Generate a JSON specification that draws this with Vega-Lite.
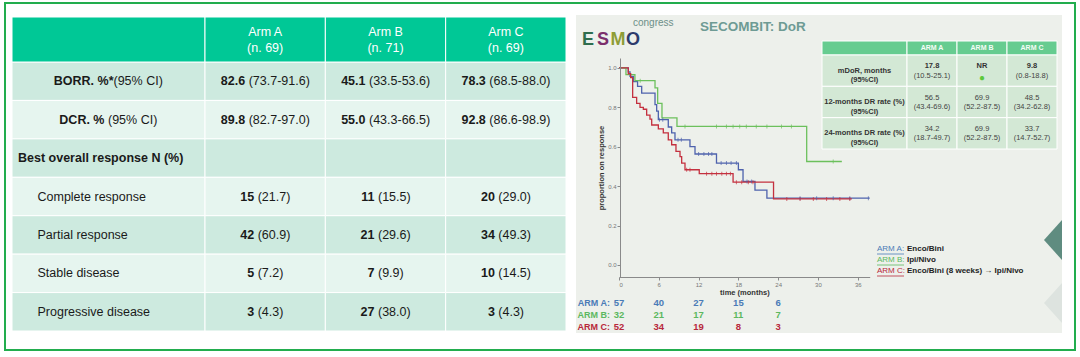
{
  "$schema": "https://vega.github.io/schema/vega-lite/v6.json",
  "width": 1070,
  "height": 347,
  "autosize": "none",
  "padding": {"left": 5, "top": 3, "right": 5, "bottom": 7},
  "background": "white",
  "title": {"text": "SECOMBIT: DoR", "anchor": "start", "frame": "group", "orient": "top", "offset": -37, "dx": 695, "baseline": "middle", "fontSize": 13.5, "font": "Liberation Sans", "fontWeight": "bold", "color": "#6e9b94"},
  "datasets": {
    "panel": [{"panel": "slide"}],
    "rows": [
      {"row": "header", "col": "label"},
      {"row": "BORR", "col": "label", "bold": "BORR. %*", "reg": "(95% CI)"},
      {"row": "DCR", "col": "label", "bold": "DCR. %", "reg": "(95% CI)"},
      {"row": "Best", "col": "label", "bold": "Best overall response N (%)"},
      {"row": "CR", "col": "label", "name": "Complete response"},
      {"row": "PR", "col": "label", "name": "Partial response"},
      {"row": "SD", "col": "label", "name": "Stable disease"},
      {"row": "PD", "col": "label", "name": "Progressive disease"}
    ],
    "arms": [
      {"arm": "Arm A", "n": "(n. 69)", "row": "header"},
      {"arm": "Arm B", "n": "(n. 71)", "row": "header"},
      {"arm": "Arm C", "n": "(n. 69)", "row": "header"}
    ],
    "cells": [
      {"row": "BORR", "arm": "Arm A", "v": "82.6", "c": "(73.7-91.6)"},
      {"row": "BORR", "arm": "Arm B", "v": "45.1", "c": "(33.5-53.6)"},
      {"row": "BORR", "arm": "Arm C", "v": "78.3", "c": "(68.5-88.0)"},
      {"row": "DCR", "arm": "Arm A", "v": "89.8", "c": "(82.7-97.0)"},
      {"row": "DCR", "arm": "Arm B", "v": "55.0", "c": "(43.3-66.5)"},
      {"row": "DCR", "arm": "Arm C", "v": "92.8", "c": "(86.6-98.9)"},
      {"row": "Best", "arm": "Arm A", "v": "", "c": ""},
      {"row": "Best", "arm": "Arm B", "v": "", "c": ""},
      {"row": "Best", "arm": "Arm C", "v": "", "c": ""},
      {"row": "CR", "arm": "Arm A", "v": "15", "c": "(21.7)"},
      {"row": "CR", "arm": "Arm B", "v": "11", "c": "(15.5)"},
      {"row": "CR", "arm": "Arm C", "v": "20", "c": "(29.0)"},
      {"row": "PR", "arm": "Arm A", "v": "42", "c": "(60.9)"},
      {"row": "PR", "arm": "Arm B", "v": "21", "c": "(29.6)"},
      {"row": "PR", "arm": "Arm C", "v": "34", "c": "(49.3)"},
      {"row": "SD", "arm": "Arm A", "v": "5", "c": "(7.2)"},
      {"row": "SD", "arm": "Arm B", "v": "7", "c": "(9.9)"},
      {"row": "SD", "arm": "Arm C", "v": "10", "c": "(14.5)"},
      {"row": "PD", "arm": "Arm A", "v": "3", "c": "(4.3)"},
      {"row": "PD", "arm": "Arm B", "v": "27", "c": "(38.0)"},
      {"row": "PD", "arm": "Arm C", "v": "3", "c": "(4.3)"}
    ],
    "km": [
      {"arm": "ARM A", "t": 0, "p": 1.0},
      {"arm": "ARM A", "t": 1.4, "p": 0.98},
      {"arm": "ARM A", "t": 1.66, "p": 0.957},
      {"arm": "ARM A", "t": 2.16, "p": 0.93},
      {"arm": "ARM A", "t": 2.8, "p": 0.906},
      {"arm": "ARM A", "t": 3.42, "p": 0.872},
      {"arm": "ARM A", "t": 5.43, "p": 0.813},
      {"arm": "ARM A", "t": 5.68, "p": 0.78},
      {"arm": "ARM A", "t": 5.93, "p": 0.737},
      {"arm": "ARM A", "t": 7.43, "p": 0.70},
      {"arm": "ARM A", "t": 7.94, "p": 0.67},
      {"arm": "ARM A", "t": 8.44, "p": 0.635},
      {"arm": "ARM A", "t": 10.7, "p": 0.60},
      {"arm": "ARM A", "t": 11.46, "p": 0.563},
      {"arm": "ARM A", "t": 14.7, "p": 0.517},
      {"arm": "ARM A", "t": 18.0, "p": 0.483},
      {"arm": "ARM A", "t": 18.7, "p": 0.424},
      {"arm": "ARM A", "t": 20.5, "p": 0.38},
      {"arm": "ARM A", "t": 22.3, "p": 0.339},
      {"arm": "ARM A", "t": 37.8, "p": 0.339},
      {"arm": "ARM B", "t": 0, "p": 1.0},
      {"arm": "ARM B", "t": 1.05, "p": 0.966},
      {"arm": "ARM B", "t": 2.4, "p": 0.935},
      {"arm": "ARM B", "t": 5.43, "p": 0.898},
      {"arm": "ARM B", "t": 5.83, "p": 0.82},
      {"arm": "ARM B", "t": 6.48, "p": 0.746},
      {"arm": "ARM B", "t": 8.74, "p": 0.703},
      {"arm": "ARM B", "t": 28.3, "p": 0.525},
      {"arm": "ARM B", "t": 33.6, "p": 0.525},
      {"arm": "ARM C", "t": 0, "p": 1.0},
      {"arm": "ARM C", "t": 1.4, "p": 0.97},
      {"arm": "ARM C", "t": 1.76, "p": 0.95},
      {"arm": "ARM C", "t": 2.06, "p": 0.85},
      {"arm": "ARM C", "t": 2.66, "p": 0.82},
      {"arm": "ARM C", "t": 3.17, "p": 0.80},
      {"arm": "ARM C", "t": 3.67, "p": 0.79},
      {"arm": "ARM C", "t": 4.17, "p": 0.76},
      {"arm": "ARM C", "t": 4.67, "p": 0.74},
      {"arm": "ARM C", "t": 4.93, "p": 0.71},
      {"arm": "ARM C", "t": 5.93, "p": 0.69},
      {"arm": "ARM C", "t": 6.68, "p": 0.67},
      {"arm": "ARM C", "t": 7.43, "p": 0.635},
      {"arm": "ARM C", "t": 7.94, "p": 0.61},
      {"arm": "ARM C", "t": 8.59, "p": 0.576},
      {"arm": "ARM C", "t": 9.2, "p": 0.55},
      {"arm": "ARM C", "t": 9.45, "p": 0.517},
      {"arm": "ARM C", "t": 9.95, "p": 0.483},
      {"arm": "ARM C", "t": 12.1, "p": 0.463},
      {"arm": "ARM C", "t": 17.2, "p": 0.42},
      {"arm": "ARM C", "t": 23.3, "p": 0.335},
      {"arm": "ARM C", "t": 35.1, "p": 0.335}
    ],
    "censor": [
      {"arm": "ARM B", "t": 3.2, "p": 0.935},
      {"arm": "ARM B", "t": 9.95, "p": 0.703},
      {"arm": "ARM B", "t": 14.7, "p": 0.703},
      {"arm": "ARM B", "t": 16.2, "p": 0.703},
      {"arm": "ARM B", "t": 17.2, "p": 0.703},
      {"arm": "ARM B", "t": 18.2, "p": 0.703},
      {"arm": "ARM B", "t": 19.2, "p": 0.703},
      {"arm": "ARM B", "t": 20.7, "p": 0.703},
      {"arm": "ARM B", "t": 22.3, "p": 0.703},
      {"arm": "ARM B", "t": 24.5, "p": 0.703},
      {"arm": "ARM B", "t": 26.0, "p": 0.703},
      {"arm": "ARM B", "t": 32.3, "p": 0.525},
      {"arm": "ARM A", "t": 6.1, "p": 0.737},
      {"arm": "ARM A", "t": 6.6, "p": 0.737},
      {"arm": "ARM A", "t": 8.9, "p": 0.635},
      {"arm": "ARM A", "t": 9.4, "p": 0.635},
      {"arm": "ARM A", "t": 12.0, "p": 0.563},
      {"arm": "ARM A", "t": 12.8, "p": 0.563},
      {"arm": "ARM A", "t": 13.5, "p": 0.563},
      {"arm": "ARM A", "t": 14.0, "p": 0.563},
      {"arm": "ARM A", "t": 15.4, "p": 0.517},
      {"arm": "ARM A", "t": 16.2, "p": 0.517},
      {"arm": "ARM A", "t": 16.9, "p": 0.517},
      {"arm": "ARM A", "t": 17.7, "p": 0.517},
      {"arm": "ARM A", "t": 19.3, "p": 0.424},
      {"arm": "ARM A", "t": 20.0, "p": 0.424},
      {"arm": "ARM A", "t": 27.3, "p": 0.339},
      {"arm": "ARM A", "t": 29.8, "p": 0.339},
      {"arm": "ARM A", "t": 32.3, "p": 0.339},
      {"arm": "ARM A", "t": 34.8, "p": 0.339},
      {"arm": "ARM A", "t": 37.6, "p": 0.339},
      {"arm": "ARM C", "t": 10.2, "p": 0.483},
      {"arm": "ARM C", "t": 10.7, "p": 0.483},
      {"arm": "ARM C", "t": 13.2, "p": 0.463},
      {"arm": "ARM C", "t": 14.0, "p": 0.463},
      {"arm": "ARM C", "t": 14.7, "p": 0.463},
      {"arm": "ARM C", "t": 15.5, "p": 0.463},
      {"arm": "ARM C", "t": 16.2, "p": 0.463},
      {"arm": "ARM C", "t": 16.8, "p": 0.463},
      {"arm": "ARM C", "t": 17.7, "p": 0.42},
      {"arm": "ARM C", "t": 18.5, "p": 0.42},
      {"arm": "ARM C", "t": 19.5, "p": 0.42},
      {"arm": "ARM C", "t": 20.2, "p": 0.42},
      {"arm": "ARM C", "t": 25.3, "p": 0.335},
      {"arm": "ARM C", "t": 27.3, "p": 0.335},
      {"arm": "ARM C", "t": 29.3, "p": 0.335},
      {"arm": "ARM C", "t": 31.3, "p": 0.335},
      {"arm": "ARM C", "t": 33.3, "p": 0.335},
      {"arm": "ARM C", "t": 34.8, "p": 0.335}
    ],
    "risk": [
      {"arm": "ARM A", "t": 0, "n": 57}, {"arm": "ARM A", "t": 6, "n": 40}, {"arm": "ARM A", "t": 12, "n": 27}, {"arm": "ARM A", "t": 18, "n": 15}, {"arm": "ARM A", "t": 24, "n": 6},
      {"arm": "ARM B", "t": 0, "n": 32}, {"arm": "ARM B", "t": 6, "n": 21}, {"arm": "ARM B", "t": 12, "n": 17}, {"arm": "ARM B", "t": 18, "n": 11}, {"arm": "ARM B", "t": 24, "n": 7},
      {"arm": "ARM C", "t": 0, "n": 52}, {"arm": "ARM C", "t": 6, "n": 34}, {"arm": "ARM C", "t": 12, "n": 19}, {"arm": "ARM C", "t": 18, "n": 8}, {"arm": "ARM C", "t": 24, "n": 3}
    ],
    "kmarms": [
      {"arm": "ARM A", "lab": "ARM A:", "desc": "Enco/Bini"},
      {"arm": "ARM B", "lab": "ARM B:", "desc": "Ipi/Nivo"},
      {"arm": "ARM C", "lab": "ARM C:", "desc": "Enco/Bini  (8 weeks) → Ipi/Nivo"}
    ],
    "dorrows": [
      {"col": "label", "row": "hdr", "label": ""},
      {"col": "label", "row": "mdor", "label": "mDoR, months\n(95%CI)"},
      {"col": "label", "row": "r12", "label": "12-months DR rate (%)\n(95%CI)"},
      {"col": "label", "row": "r24", "label": "24-months DR rate (%)\n(95%CI)"}
    ],
    "dorhdr": [
      {"arm": "ARM A", "row": "hdr"},
      {"arm": "ARM B", "row": "hdr"},
      {"arm": "ARM C", "row": "hdr"}
    ],
    "dorcells": [
      {"row": "mdor", "arm": "ARM A", "v": "17.8", "ci": "(10.5-25.1)"},
      {"row": "mdor", "arm": "ARM B", "v": "NR", "ci": ""},
      {"row": "mdor", "arm": "ARM C", "v": "9.8", "ci": "(0.8-18.8)"},
      {"row": "r12", "arm": "ARM A", "v": "56.5", "ci": "(43.4-69.6)"},
      {"row": "r12", "arm": "ARM B", "v": "69.9", "ci": "(52.2-87.5)"},
      {"row": "r12", "arm": "ARM C", "v": "48.5", "ci": "(34.2-62.8)"},
      {"row": "r24", "arm": "ARM A", "v": "34.2", "ci": "(18.7-49.7)"},
      {"row": "r24", "arm": "ARM B", "v": "69.9", "ci": "(52.2-87.5)"},
      {"row": "r24", "arm": "ARM C", "v": "33.7", "ci": "(14.7-52.7)"}
    ],
    "logo": [{"ch": "E"}, {"ch": "S"}, {"ch": "M"}, {"ch": "O"}],
    "brand": [{"w": "congress"}],
    "deco": [{"d": "dark"}, {"d": "light"}]
  },
  "layer": [
    {
      "data": {"name": "panel"},
      "mark": {"type": "rect", "color": "#edf0eb"},
      "encoding": {
        "x": {"field": "panel", "type": "nominal", "scale": {"type": "band", "domain": ["slide"], "range": [571, 1057], "paddingInner": 0, "paddingOuter": 0}, "axis": null},
        "y": {"field": "panel", "type": "nominal", "scale": {"type": "band", "domain": ["slide"], "range": [12, 330], "paddingInner": 0, "paddingOuter": 0}, "axis": null}
      }
    },
    {
      "data": {"name": "deco"},
      "mark": {"type": "point", "filled": true, "opacity": 1, "size": 1600, "shape": "M 0.45,-1 L -0.45,0 L 0.45,1 Z"},
      "encoding": {
        "x": {"field": "d", "type": "nominal", "scale": {"type": "point", "domain": ["dark", "light"], "range": [1048, 1048], "padding": 0}, "axis": null},
        "y": {"field": "d", "type": "nominal", "scale": {"type": "point", "domain": ["dark", "light"], "range": [237, 300], "padding": 0}, "axis": null},
        "color": {"field": "d", "type": "nominal", "scale": {"domain": ["dark", "light"], "range": ["#5f8c80", "#dde3df"]}, "legend": null}
      }
    },
    {
      "data": {"name": "rows"},
      "transform": [{"filter": "datum.row !== 'header'"}],
      "mark": {"type": "rect", "stroke": "white", "strokeWidth": 1},
      "encoding": {
        "x": {"field": "col", "type": "nominal", "scale": {"type": "band", "domain": ["label"], "range": [7, 200], "paddingInner": 0, "paddingOuter": 0}, "axis": null},
        "y": {"field": "row", "type": "nominal", "scale": {"type": "band", "domain": ["BORR", "DCR", "Best", "CR", "PR", "SD", "PD"], "range": [59, 328], "paddingInner": 0, "paddingOuter": 0}, "axis": null},
        "color": {"field": "row", "type": "nominal", "scale": {"domain": ["BORR", "DCR", "Best", "CR", "PR", "SD", "PD"], "range": ["#cdeadf", "#e6f5ef", "#cdeadf", "#e6f5ef", "#cdeadf", "#e6f5ef", "#cdeadf"]}, "legend": null}
      }
    },
    {
      "data": {"name": "cells"},
      "mark": {"type": "rect", "stroke": "white", "strokeWidth": 1},
      "encoding": {
        "x": {"field": "arm", "type": "nominal", "scale": {"type": "band", "domain": ["Arm A", "Arm B", "Arm C"], "range": [200, 561], "paddingInner": 0, "paddingOuter": 0}, "axis": null},
        "y": {"field": "row", "type": "nominal", "scale": {"type": "band", "domain": ["BORR", "DCR", "Best", "CR", "PR", "SD", "PD"], "range": [59, 328], "paddingInner": 0, "paddingOuter": 0}, "axis": null},
        "color": {"field": "row", "type": "nominal", "scale": {"domain": ["BORR", "DCR", "Best", "CR", "PR", "SD", "PD"], "range": ["#cdeadf", "#e6f5ef", "#cdeadf", "#e6f5ef", "#cdeadf", "#e6f5ef", "#cdeadf"]}, "legend": null}
      }
    },
    {
      "data": {"name": "rows"},
      "transform": [{"filter": "datum.row === 'header'"}],
      "mark": {"type": "rect", "stroke": "white", "strokeWidth": 1, "color": "#00c896"},
      "encoding": {
        "x": {"field": "col", "type": "nominal", "scale": {"type": "band", "domain": ["label"], "range": [7, 200], "paddingInner": 0, "paddingOuter": 0}, "axis": null},
        "y": {"field": "row", "type": "nominal", "scale": {"type": "band", "domain": ["header"], "range": [14, 59], "paddingInner": 0, "paddingOuter": 0}, "axis": null}
      }
    },
    {
      "data": {"name": "arms"},
      "mark": {"type": "rect", "stroke": "white", "strokeWidth": 1, "color": "#00c896"},
      "encoding": {
        "x": {"field": "arm", "type": "nominal", "scale": {"type": "band", "domain": ["Arm A", "Arm B", "Arm C"], "range": [200, 561], "paddingInner": 0, "paddingOuter": 0}, "axis": null},
        "y": {"field": "row", "type": "nominal", "scale": {"type": "band", "domain": ["header"], "range": [14, 59], "paddingInner": 0, "paddingOuter": 0}, "axis": null}
      }
    },
    {
      "data": {"name": "arms"},
      "mark": {"type": "text", "color": "white", "fontSize": 12.5, "dy": -8},
      "encoding": {
        "x": {"field": "arm", "type": "nominal", "scale": {"type": "band", "domain": ["Arm A", "Arm B", "Arm C"], "range": [200, 561], "paddingInner": 0, "paddingOuter": 0}, "axis": null},
        "y": {"field": "row", "type": "nominal", "scale": {"type": "band", "domain": ["header"], "range": [14, 59], "paddingInner": 0, "paddingOuter": 0}, "axis": null},
        "text": {"field": "arm"}
      }
    },
    {
      "data": {"name": "arms"},
      "mark": {"type": "text", "color": "white", "fontSize": 12.5, "dy": 8},
      "encoding": {
        "x": {"field": "arm", "type": "nominal", "scale": {"type": "band", "domain": ["Arm A", "Arm B", "Arm C"], "range": [200, 561], "paddingInner": 0, "paddingOuter": 0}, "axis": null},
        "y": {"field": "row", "type": "nominal", "scale": {"type": "band", "domain": ["header"], "range": [14, 59], "paddingInner": 0, "paddingOuter": 0}, "axis": null},
        "text": {"field": "n"}
      }
    },
    {
      "data": {"name": "rows"},
      "transform": [{"filter": "datum.row === 'BORR'"}],
      "mark": {"type": "text", "color": "#1a1a1a", "fontSize": 12.5, "fontWeight": "bold", "align": "right", "dx": 5},
      "encoding": {
        "x": {"field": "col", "type": "nominal", "scale": {"type": "band", "domain": ["label"], "range": [7, 200], "paddingInner": 0, "paddingOuter": 0}, "axis": null},
        "y": {"field": "row", "type": "nominal", "scale": {"type": "band", "domain": ["BORR", "DCR", "Best", "CR", "PR", "SD", "PD"], "range": [59, 328], "paddingInner": 0, "paddingOuter": 0}, "axis": null},
        "text": {"field": "bold"}
      }
    },
    {
      "data": {"name": "rows"},
      "transform": [{"filter": "datum.row === 'BORR'"}],
      "mark": {"type": "text", "color": "#1a1a1a", "fontSize": 12.5, "align": "left", "dx": 5},
      "encoding": {
        "x": {"field": "col", "type": "nominal", "scale": {"type": "band", "domain": ["label"], "range": [7, 200], "paddingInner": 0, "paddingOuter": 0}, "axis": null},
        "y": {"field": "row", "type": "nominal", "scale": {"type": "band", "domain": ["BORR", "DCR", "Best", "CR", "PR", "SD", "PD"], "range": [59, 328], "paddingInner": 0, "paddingOuter": 0}, "axis": null},
        "text": {"field": "reg"}
      }
    },
    {
      "data": {"name": "rows"},
      "transform": [{"filter": "datum.row === 'DCR'"}],
      "mark": {"type": "text", "color": "#1a1a1a", "fontSize": 12.5, "fontWeight": "bold", "align": "right", "dx": -4},
      "encoding": {
        "x": {"field": "col", "type": "nominal", "scale": {"type": "band", "domain": ["label"], "range": [7, 200], "paddingInner": 0, "paddingOuter": 0}, "axis": null},
        "y": {"field": "row", "type": "nominal", "scale": {"type": "band", "domain": ["BORR", "DCR", "Best", "CR", "PR", "SD", "PD"], "range": [59, 328], "paddingInner": 0, "paddingOuter": 0}, "axis": null},
        "text": {"field": "bold"}
      }
    },
    {
      "data": {"name": "rows"},
      "transform": [{"filter": "datum.row === 'DCR'"}],
      "mark": {"type": "text", "color": "#1a1a1a", "fontSize": 12.5, "align": "left", "dx": -0.5},
      "encoding": {
        "x": {"field": "col", "type": "nominal", "scale": {"type": "band", "domain": ["label"], "range": [7, 200], "paddingInner": 0, "paddingOuter": 0}, "axis": null},
        "y": {"field": "row", "type": "nominal", "scale": {"type": "band", "domain": ["BORR", "DCR", "Best", "CR", "PR", "SD", "PD"], "range": [59, 328], "paddingInner": 0, "paddingOuter": 0}, "axis": null},
        "text": {"field": "reg"}
      }
    },
    {
      "data": {"name": "rows"},
      "transform": [{"filter": "datum.row === 'Best'"}],
      "mark": {"type": "text", "color": "#1a1a1a", "fontSize": 12.5, "fontWeight": "bold", "align": "left", "dx": 6},
      "encoding": {
        "x": {"field": "col", "type": "nominal", "bandPosition": 0, "scale": {"type": "band", "domain": ["label"], "range": [7, 200], "paddingInner": 0, "paddingOuter": 0}, "axis": null},
        "y": {"field": "row", "type": "nominal", "scale": {"type": "band", "domain": ["BORR", "DCR", "Best", "CR", "PR", "SD", "PD"], "range": [59, 328], "paddingInner": 0, "paddingOuter": 0}, "axis": null},
        "text": {"field": "bold"}
      }
    },
    {
      "data": {"name": "rows"},
      "transform": [{"filter": "datum.name != null"}],
      "mark": {"type": "text", "color": "#1a1a1a", "fontSize": 12.5, "align": "left", "dx": 25.5},
      "encoding": {
        "x": {"field": "col", "type": "nominal", "bandPosition": 0, "scale": {"type": "band", "domain": ["label"], "range": [7, 200], "paddingInner": 0, "paddingOuter": 0}, "axis": null},
        "y": {"field": "row", "type": "nominal", "scale": {"type": "band", "domain": ["BORR", "DCR", "Best", "CR", "PR", "SD", "PD"], "range": [59, 328], "paddingInner": 0, "paddingOuter": 0}, "axis": null},
        "text": {"field": "name"}
      }
    },
    {
      "data": {"name": "cells"},
      "transform": [{"filter": {"field": "row", "oneOf": ["BORR", "DCR"]}}],
      "mark": {"type": "text", "color": "#1a1a1a", "fontSize": 12.5, "fontWeight": "bold", "align": "right", "dx": -20},
      "encoding": {
        "x": {"field": "arm", "type": "nominal", "scale": {"type": "band", "domain": ["Arm A", "Arm B", "Arm C"], "range": [200, 561], "paddingInner": 0, "paddingOuter": 0}, "axis": null},
        "y": {"field": "row", "type": "nominal", "scale": {"type": "band", "domain": ["BORR", "DCR", "Best", "CR", "PR", "SD", "PD"], "range": [59, 328], "paddingInner": 0, "paddingOuter": 0}, "axis": null},
        "text": {"field": "v"}
      }
    },
    {
      "data": {"name": "cells"},
      "transform": [{"filter": {"field": "row", "oneOf": ["BORR", "DCR"]}}],
      "mark": {"type": "text", "color": "#1a1a1a", "fontSize": 12.5, "align": "left", "dx": -16.5},
      "encoding": {
        "x": {"field": "arm", "type": "nominal", "scale": {"type": "band", "domain": ["Arm A", "Arm B", "Arm C"], "range": [200, 561], "paddingInner": 0, "paddingOuter": 0}, "axis": null},
        "y": {"field": "row", "type": "nominal", "scale": {"type": "band", "domain": ["BORR", "DCR", "Best", "CR", "PR", "SD", "PD"], "range": [59, 328], "paddingInner": 0, "paddingOuter": 0}, "axis": null},
        "text": {"field": "c"}
      }
    },
    {
      "data": {"name": "cells"},
      "transform": [{"filter": {"field": "row", "oneOf": ["CR", "PR", "SD", "PD"]}}],
      "mark": {"type": "text", "color": "#1a1a1a", "fontSize": 12.5, "fontWeight": "bold", "align": "right", "dx": -11},
      "encoding": {
        "x": {"field": "arm", "type": "nominal", "scale": {"type": "band", "domain": ["Arm A", "Arm B", "Arm C"], "range": [200, 561], "paddingInner": 0, "paddingOuter": 0}, "axis": null},
        "y": {"field": "row", "type": "nominal", "scale": {"type": "band", "domain": ["BORR", "DCR", "Best", "CR", "PR", "SD", "PD"], "range": [59, 328], "paddingInner": 0, "paddingOuter": 0}, "axis": null},
        "text": {"field": "v"}
      }
    },
    {
      "data": {"name": "cells"},
      "transform": [{"filter": {"field": "row", "oneOf": ["CR", "PR", "SD", "PD"]}}],
      "mark": {"type": "text", "color": "#1a1a1a", "fontSize": 12.5, "align": "left", "dx": -7.5},
      "encoding": {
        "x": {"field": "arm", "type": "nominal", "scale": {"type": "band", "domain": ["Arm A", "Arm B", "Arm C"], "range": [200, 561], "paddingInner": 0, "paddingOuter": 0}, "axis": null},
        "y": {"field": "row", "type": "nominal", "scale": {"type": "band", "domain": ["BORR", "DCR", "Best", "CR", "PR", "SD", "PD"], "range": [59, 328], "paddingInner": 0, "paddingOuter": 0}, "axis": null},
        "text": {"field": "c"}
      }
    },
    {
      "data": {"name": "km"},
      "mark": {"type": "line", "interpolate": "step-after", "strokeWidth": 1.3},
      "encoding": {
        "x": {"field": "t", "type": "quantitative", "scale": {"domain": [0, 37.8], "range": [614, 864.7], "nice": false, "zero": false},
          "axis": {"values": [0, 6, 12, 18, 24, 30, 36], "title": "time (months)", "offset": -73, "zindex": 1, "grid": false, "domainColor": "#8a8a8a", "tickColor": "#8a8a8a", "tickSize": 3, "labelFontSize": 6, "labelColor": "#777777", "labelPadding": 1, "titleFontSize": 7.5, "titleFontWeight": "bold", "titleColor": "#333333", "titlePadding": 1, "titleFont": "Liberation Sans", "labelFont": "Liberation Sans"}},
        "y": {"field": "p", "type": "quantitative", "scale": {"domain": [-0.061, 1.05], "range": [274, 55], "nice": false, "zero": false},
          "axis": {"values": [0, 0.2, 0.4, 0.6, 0.8, 1.0], "format": ".1f", "title": "proportion on response", "offset": -615, "zindex": 1, "grid": false, "domainColor": "#8a8a8a", "tickColor": "#8a8a8a", "tickSize": 3, "labelFontSize": 6, "labelColor": "#777777", "labelPadding": 1, "titleFontSize": 7.5, "titleFontWeight": "bold", "titleColor": "#333333", "titlePadding": 2, "titleFont": "Liberation Sans", "labelFont": "Liberation Sans"}},
        "color": {"field": "arm", "type": "nominal", "scale": {"domain": ["ARM A", "ARM B", "ARM C"], "range": ["#4e62ad", "#6cc05c", "#c4303f"]}, "legend": null}
      }
    },
    {
      "data": {"name": "censor"},
      "mark": {"type": "tick", "orient": "vertical", "size": 4, "thickness": 1},
      "encoding": {
        "x": {"field": "t", "type": "quantitative", "scale": {"domain": [0, 37.8], "range": [614, 864.7], "nice": false, "zero": false}, "axis": null},
        "y": {"field": "p", "type": "quantitative", "scale": {"domain": [-0.061, 1.05], "range": [274, 55], "nice": false, "zero": false}, "axis": null},
        "color": {"field": "arm", "type": "nominal", "scale": {"domain": ["ARM A", "ARM B", "ARM C"], "range": ["#4e62ad", "#6cc05c", "#c4303f"]}, "legend": null}
      }
    },
    {
      "data": {"name": "risk"},
      "mark": {"type": "text", "fontSize": 9.5, "fontWeight": "bold", "font": "Liberation Sans"},
      "encoding": {
        "x": {"field": "t", "type": "quantitative", "scale": {"domain": [0, 37.8], "range": [614, 864.7], "nice": false, "zero": false}, "axis": null},
        "y": {"field": "arm", "type": "nominal", "scale": {"type": "point", "domain": ["ARM A", "ARM B", "ARM C"], "range": [300, 324], "padding": 0}, "axis": null},
        "text": {"field": "n"},
        "color": {"field": "arm", "type": "nominal", "scale": {"domain": ["ARM A", "ARM B", "ARM C"], "range": ["#4a7bb7", "#5cb860", "#b8283a"]}, "legend": null}
      }
    },
    {
      "data": {"name": "kmarms"},
      "mark": {"type": "text", "fontSize": 9, "fontWeight": "bold", "font": "Liberation Sans", "align": "right", "dx": -9},
      "encoding": {
        "x": {"datum": 0, "type": "quantitative", "scale": {"domain": [0, 37.8], "range": [614, 864.7], "nice": false, "zero": false}, "axis": null},
        "y": {"field": "arm", "type": "nominal", "scale": {"type": "point", "domain": ["ARM A", "ARM B", "ARM C"], "range": [300, 324], "padding": 0}, "axis": null},
        "text": {"field": "lab"},
        "color": {"field": "arm", "type": "nominal", "scale": {"domain": ["ARM A", "ARM B", "ARM C"], "range": ["#4a7bb7", "#5cb860", "#b8283a"]}, "legend": null}
      }
    },
    {
      "data": {"name": "kmarms"},
      "mark": {"type": "text", "fontSize": 8, "font": "Liberation Sans", "align": "left"},
      "encoding": {
        "x": {"field": "arm", "type": "nominal", "scale": {"type": "point", "domain": ["ARM A", "ARM B", "ARM C"], "range": [872, 872], "padding": 0}, "axis": null},
        "y": {"field": "arm", "type": "nominal", "scale": {"type": "point", "domain": ["ARM A", "ARM B", "ARM C"], "range": [246, 268], "padding": 0}, "axis": null},
        "text": {"field": "lab"},
        "color": {"field": "arm", "type": "nominal", "scale": {"domain": ["ARM A", "ARM B", "ARM C"], "range": ["#4a7bb7", "#5cb860", "#b8283a"]}, "legend": null}
      }
    },
    {
      "data": {"name": "kmarms"},
      "mark": {"type": "rule", "strokeWidth": 0.8},
      "encoding": {
        "x": {"datum": 0, "type": "quantitative", "scale": {"domain": [0, 1], "range": [872, 899], "nice": false, "zero": false}, "axis": null},
        "x2": {"datum": 1},
        "y": {"field": "arm", "type": "nominal", "scale": {"type": "point", "domain": ["ARM A", "ARM B", "ARM C"], "range": [251, 273], "padding": 0}, "axis": null},
        "color": {"field": "arm", "type": "nominal", "scale": {"domain": ["ARM A", "ARM B", "ARM C"], "range": ["#4a7bb7", "#5cb860", "#b8283a"]}, "legend": null}
      }
    },
    {
      "data": {"name": "kmarms"},
      "mark": {"type": "text", "fontSize": 8, "font": "Liberation Sans", "fontWeight": "bold", "align": "left", "dx": 30, "color": "#222222"},
      "encoding": {
        "x": {"field": "arm", "type": "nominal", "scale": {"type": "point", "domain": ["ARM A", "ARM B", "ARM C"], "range": [872, 872], "padding": 0}, "axis": null},
        "y": {"field": "arm", "type": "nominal", "scale": {"type": "point", "domain": ["ARM A", "ARM B", "ARM C"], "range": [246, 268], "padding": 0}, "axis": null},
        "text": {"field": "desc"}
      }
    },
    {
      "data": {"name": "dorrows"},
      "transform": [{"filter": "datum.row === 'hdr'"}],
      "mark": {"type": "rect", "stroke": "white", "strokeWidth": 1, "color": "#66cc90"},
      "encoding": {
        "x": {"field": "col", "type": "nominal", "scale": {"type": "band", "domain": ["label"], "range": [817, 902], "paddingInner": 0, "paddingOuter": 0}, "axis": null},
        "y": {"field": "row", "type": "nominal", "scale": {"type": "band", "domain": ["hdr"], "range": [38, 52], "paddingInner": 0, "paddingOuter": 0}, "axis": null}
      }
    },
    {
      "data": {"name": "dorhdr"},
      "mark": {"type": "rect", "stroke": "white", "strokeWidth": 1, "color": "#66cc90"},
      "encoding": {
        "x": {"field": "arm", "type": "nominal", "scale": {"type": "band", "domain": ["ARM A", "ARM B", "ARM C"], "range": [902, 1052], "paddingInner": 0, "paddingOuter": 0}, "axis": null},
        "y": {"field": "row", "type": "nominal", "scale": {"type": "band", "domain": ["hdr"], "range": [38, 52], "paddingInner": 0, "paddingOuter": 0}, "axis": null}
      }
    },
    {
      "data": {"name": "dorhdr"},
      "mark": {"type": "text", "color": "#f4fbf6", "fontSize": 7, "fontWeight": "bold"},
      "encoding": {
        "x": {"field": "arm", "type": "nominal", "scale": {"type": "band", "domain": ["ARM A", "ARM B", "ARM C"], "range": [902, 1052], "paddingInner": 0, "paddingOuter": 0}, "axis": null},
        "y": {"field": "row", "type": "nominal", "scale": {"type": "band", "domain": ["hdr"], "range": [38, 52], "paddingInner": 0, "paddingOuter": 0}, "axis": null},
        "text": {"field": "arm"}
      }
    },
    {
      "data": {"name": "dorrows"},
      "transform": [{"filter": "datum.row !== 'hdr'"}],
      "mark": {"type": "rect", "stroke": "white", "strokeWidth": 1, "color": "#d3e8d5"},
      "encoding": {
        "x": {"field": "col", "type": "nominal", "scale": {"type": "band", "domain": ["label"], "range": [817, 902], "paddingInner": 0, "paddingOuter": 0}, "axis": null},
        "y": {"field": "row", "type": "nominal", "scale": {"type": "band", "domain": ["mdor", "r12", "r24"], "range": [52, 146], "paddingInner": 0, "paddingOuter": 0}, "axis": null}
      }
    },
    {
      "data": {"name": "dorcells"},
      "mark": {"type": "rect", "stroke": "white", "strokeWidth": 1, "color": "#d3e8d5"},
      "encoding": {
        "x": {"field": "arm", "type": "nominal", "scale": {"type": "band", "domain": ["ARM A", "ARM B", "ARM C"], "range": [902, 1052], "paddingInner": 0, "paddingOuter": 0}, "axis": null},
        "y": {"field": "row", "type": "nominal", "scale": {"type": "band", "domain": ["mdor", "r12", "r24"], "range": [52, 146], "paddingInner": 0, "paddingOuter": 0}, "axis": null}
      }
    },
    {
      "data": {"name": "dorrows"},
      "transform": [{"filter": "datum.row !== 'hdr'"}],
      "mark": {"type": "text", "color": "#333333", "fontSize": 7.5, "fontWeight": "bold", "lineBreak": "\n", "lineHeight": 9.5},
      "encoding": {
        "x": {"field": "col", "type": "nominal", "scale": {"type": "band", "domain": ["label"], "range": [817, 902], "paddingInner": 0, "paddingOuter": 0}, "axis": null},
        "y": {"field": "row", "type": "nominal", "scale": {"type": "band", "domain": ["mdor", "r12", "r24"], "range": [52, 146], "paddingInner": 0, "paddingOuter": 0}, "axis": null},
        "text": {"field": "label"}
      }
    },
    {
      "data": {"name": "dorcells"},
      "transform": [{"filter": "datum.row === 'mdor'"}],
      "mark": {"type": "text", "color": "#333333", "fontSize": 7.5, "fontWeight": "bold", "dy": -4.5},
      "encoding": {
        "x": {"field": "arm", "type": "nominal", "scale": {"type": "band", "domain": ["ARM A", "ARM B", "ARM C"], "range": [902, 1052], "paddingInner": 0, "paddingOuter": 0}, "axis": null},
        "y": {"field": "row", "type": "nominal", "scale": {"type": "band", "domain": ["mdor", "r12", "r24"], "range": [52, 146], "paddingInner": 0, "paddingOuter": 0}, "axis": null},
        "text": {"field": "v"}
      }
    },
    {
      "data": {"name": "dorcells"},
      "transform": [{"filter": "datum.row !== 'mdor'"}],
      "mark": {"type": "text", "color": "#444444", "fontSize": 7.5, "dy": -4.5},
      "encoding": {
        "x": {"field": "arm", "type": "nominal", "scale": {"type": "band", "domain": ["ARM A", "ARM B", "ARM C"], "range": [902, 1052], "paddingInner": 0, "paddingOuter": 0}, "axis": null},
        "y": {"field": "row", "type": "nominal", "scale": {"type": "band", "domain": ["mdor", "r12", "r24"], "range": [52, 146], "paddingInner": 0, "paddingOuter": 0}, "axis": null},
        "text": {"field": "v"}
      }
    },
    {
      "data": {"name": "dorcells"},
      "mark": {"type": "text", "color": "#444444", "fontSize": 7.5, "dy": 5},
      "encoding": {
        "x": {"field": "arm", "type": "nominal", "scale": {"type": "band", "domain": ["ARM A", "ARM B", "ARM C"], "range": [902, 1052], "paddingInner": 0, "paddingOuter": 0}, "axis": null},
        "y": {"field": "row", "type": "nominal", "scale": {"type": "band", "domain": ["mdor", "r12", "r24"], "range": [52, 146], "paddingInner": 0, "paddingOuter": 0}, "axis": null},
        "text": {"field": "ci"}
      }
    },
    {
      "data": {"name": "dorcells"},
      "transform": [{"filter": "datum.v === 'NR'"}],
      "mark": {"type": "text", "color": "#5cc83c", "fontSize": 10, "dy": 7, "text": "●"},
      "encoding": {
        "x": {"field": "arm", "type": "nominal", "scale": {"type": "band", "domain": ["ARM A", "ARM B", "ARM C"], "range": [902, 1052], "paddingInner": 0, "paddingOuter": 0}, "axis": null},
        "y": {"field": "row", "type": "nominal", "scale": {"type": "band", "domain": ["mdor", "r12", "r24"], "range": [52, 146], "paddingInner": 0, "paddingOuter": 0}, "axis": null}
      }
    },
    {
      "data": {"name": "logo"},
      "mark": {"type": "text", "fontSize": 18, "fontWeight": "bold", "font": "Liberation Sans"},
      "encoding": {
        "x": {"field": "ch", "type": "nominal", "scale": {"type": "point", "domain": ["E", "S", "M", "O"], "range": [583, 628], "padding": 0}, "axis": null},
        "y": {"field": "ch", "type": "nominal", "scale": {"type": "point", "domain": ["E", "S", "M", "O"], "range": [37, 37], "padding": 0}, "axis": null},
        "text": {"field": "ch"},
        "color": {"field": "ch", "type": "nominal", "scale": {"domain": ["E", "S", "M", "O"], "range": ["#2f6d4d", "#7b2f6c", "#8e9d36", "#2c3c6c"]}, "legend": null}
      }
    },
    {
      "data": {"name": "brand"},
      "mark": {"type": "text", "fontSize": 10, "font": "Liberation Sans", "align": "left", "color": "#6c8f88"},
      "encoding": {
        "x": {"field": "w", "type": "nominal", "scale": {"type": "point", "domain": ["congress"], "range": [628, 628], "padding": 0}, "axis": null},
        "y": {"field": "w", "type": "nominal", "scale": {"type": "point", "domain": ["congress"], "range": [20, 20], "padding": 0}, "axis": null},
        "text": {"field": "w"}
      }
    }
  ],
  "resolve": {"scale": {"x": "independent", "y": "independent", "color": "independent"}},
  "config": {
    "view": {"stroke": "#22ad4e", "strokeWidth": 2},
    "font": "Liberation Sans",
    "text": {"font": "Liberation Sans"}
  }
}
